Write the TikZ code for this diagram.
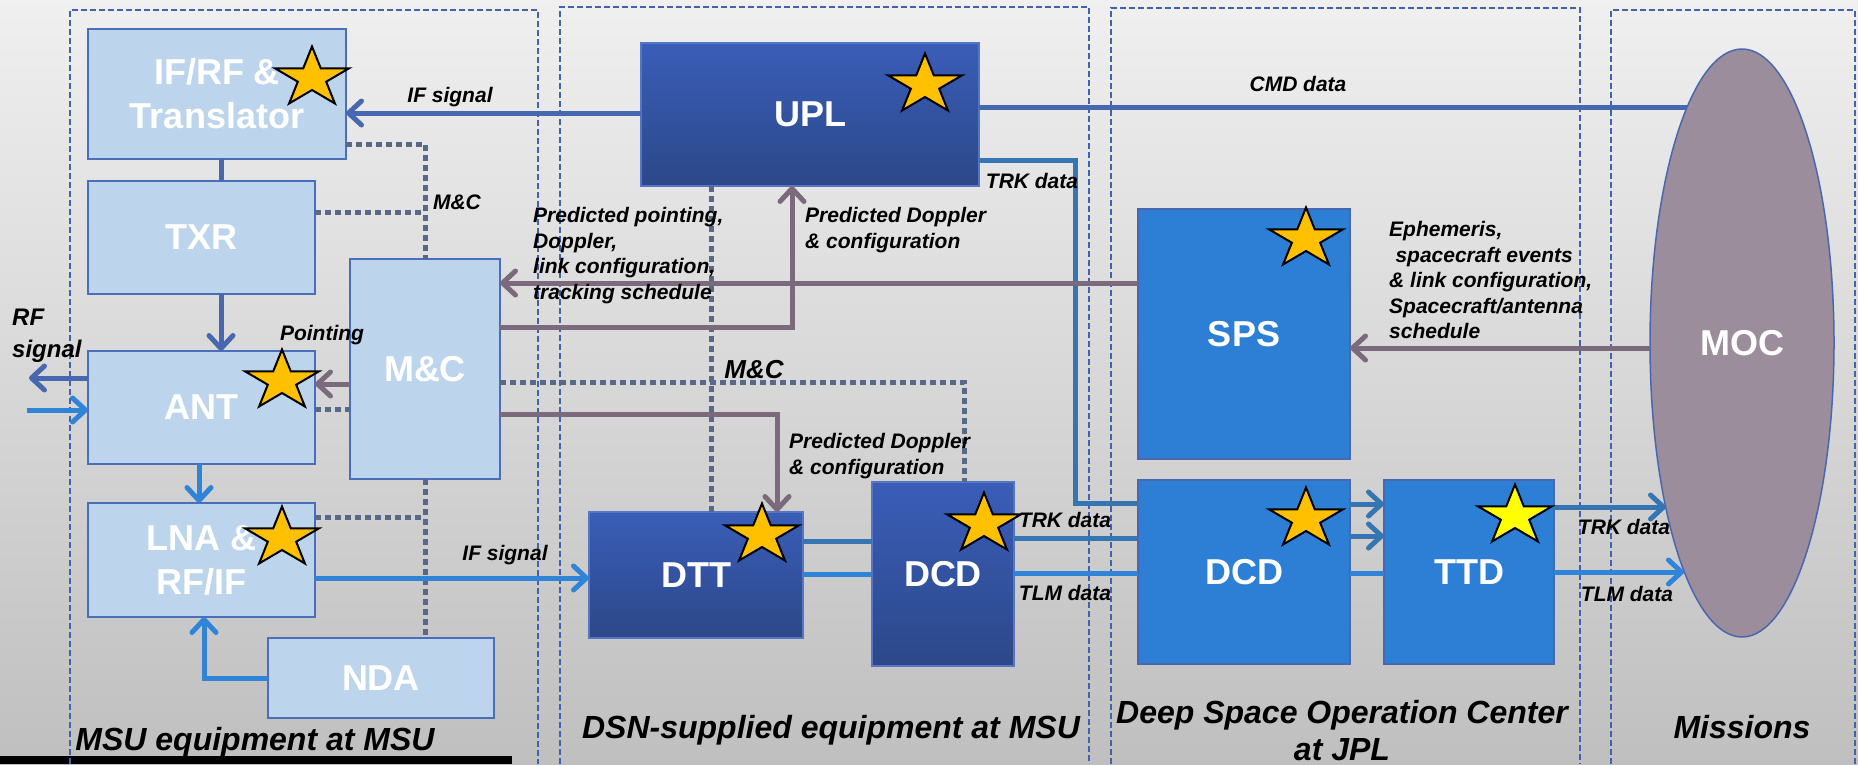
\documentclass[tikz,border=0pt]{standalone}
\usepackage{fontspec}
\setmainfont{Liberation Sans}
\usepackage{xcolor}
\usepackage{tikz}
\usetikzlibrary{positioning, shapes.geometric, arrows.meta}

\definecolor{boxlight}{HTML}{BDD5EC}
\definecolor{boxedge}{HTML}{4A6FBA}
\definecolor{upltop}{HTML}{3A5DB8}
\definecolor{uplbot}{HTML}{2C4889}
\definecolor{dboxedge}{HTML}{5676C4}
\definecolor{boxmid}{HTML}{2C7FD5}
\definecolor{midedge}{HTML}{4A67AE}
\definecolor{mocfill}{HTML}{9C8D9C}
\definecolor{lnblue}{HTML}{4767AE}
\definecolor{lnlight}{HTML}{2F84D8}
\definecolor{lnsteel}{HTML}{3575B2}
\definecolor{lnpurple}{HTML}{7A6A7C}
\definecolor{lndot}{HTML}{5A6888}
\definecolor{grpedge}{HTML}{4262B0}
\definecolor{starorange}{HTML}{FFC000}
\definecolor{staryellow}{HTML}{FFFF00}

\tikzset{gstar/.pic={
  \path[pic actions, draw=black, line width=2pt]
    (90:39pt and 31.5pt) -- (126:14.9pt and 12pt) -- (162:39pt and 31.5pt)
    -- (198:14.9pt and 12pt) -- (234:39pt and 31.5pt) -- (270:14.9pt and 12pt)
    -- (306:39pt and 31.5pt) -- (342:14.9pt and 12pt) -- (18:39pt and 31.5pt)
    -- (54:14.9pt and 12pt) -- cycle;
}}

\begin{document}
\begin{tikzpicture}[x=1pt, y=-1pt]
	\tikzstyle{lbox}=[rectangle, draw=boxedge, line width=2pt, fill=boxlight, text=white, font=\bfseries\fontsize{36}{44}\selectfont, align=center, inner sep=0pt, outer sep=0pt]
	\tikzstyle{dbox}=[lbox, draw=dboxedge, top color=upltop, bottom color=uplbot]
	\tikzstyle{mbox}=[lbox, draw=midedge, fill=boxmid]
	\tikzstyle{grp}=[draw=grpedge, line width=1.5pt, dash pattern=on 6pt off 3pt]
	\tikzstyle{lbl}=[font=\bfseries\itshape\fontsize{21}{25.5}\selectfont, inner sep=0pt, align=left]
	\tikzstyle{glbl}=[font=\bfseries\itshape\fontsize{32}{37}\selectfont, inner sep=0pt, align=center]
	\tikzstyle{darr}=[draw=lnblue, line width=5pt]
	\tikzstyle{larr}=[draw=lnlight, line width=5pt]
	\tikzstyle{sarr}=[draw=lnsteel, line width=5pt]
	\tikzstyle{parr}=[draw=lnpurple, line width=5pt]
	\tikzstyle{mcdot}=[draw=lndot, line width=5pt, dash pattern=on 5.5pt off 4.5pt]
	\tikzstyle{headed}=[-{Straight Barb[length=13pt,width=24pt,round]}]

	\shade[top color=black!6, bottom color=black!25] (0,0) rectangle (1858,764);
	\useasboundingbox (0,0) rectangle (1858,764);
	\fill[black] (0,756) rectangle (512,764);

	\draw[grp] (70,764) |- (538,10) -- (538,764);
	\draw[grp] (560,764) |- (1089,7) -- (1089,764);
	\draw[grp] (1111,764) |- (1580,8) -- (1580,764);
	\draw[grp] (1611,764) |- (1855,10) -- (1855,764);

	\node[lbox, minimum width=258pt, minimum height=130pt](ifrf) at (217,94){IF/RF \&\\Translator};
	\node[lbox, minimum width=227pt, minimum height=113pt](txr) at (201.5,237.5){TXR};
	\node[lbox, minimum width=227pt, minimum height=113pt](ant) at (201.5,407.5){ANT};
	\node[lbox, minimum width=227pt, minimum height=114pt](lna) at (201.5,560){LNA \&\\RF/IF};
	\node[lbox, minimum width=226pt, minimum height=80pt](nda) at (381,678){NDA};
	\node[lbox, minimum width=150pt, minimum height=220pt](mc) at (425,369){M\&C};
	\node[dbox, minimum width=338pt, minimum height=143pt](upl) at (810,114.5){UPL};
	\node[dbox, minimum width=214pt, minimum height=126pt](dtt) at (696,575){DTT};
	\node[dbox, minimum width=142pt, minimum height=184pt](dcdm) at (943,574){DCD};
	\node[mbox, minimum width=212pt, minimum height=250pt](sps) at (1244,334){SPS};
	\node[mbox, minimum width=212pt, minimum height=184pt](dcdj) at (1244,572){DCD};
	\node[mbox, minimum width=170pt, minimum height=184pt](ttd) at (1469,572){TTD};
	\node[lbox, ellipse, draw=midedge, line width=1.5pt, fill=mocfill, minimum width=184pt, minimum height=588pt](moc) at (1742,343){MOC};

	\coordinate (rfout) at (29,378);
	\coordinate (rfin) at (27,410);
	\coordinate (mcmd) at (1687,107);
	\coordinate (mtrk) at (1666,507);
	\coordinate (mtlm) at (1684,572);

	\draw[mcdot] (ifrf.east |- 0,144) -| (mc.north);
	\draw[mcdot] (txr.east |- 0,212) -- (mc.north |- 0,212);
	\draw[mcdot] (ant.east |- 0,409) -- (mc.west |- 0,409);
	\draw[mcdot] (lna.east |- 0,517) -- (mc.south |- 0,517);
	\draw[mcdot] (mc.south) -- (nda.north -| mc.south);
	\draw[mcdot] (mc.east |- 0,382) -| (dcdm.north -| 964,0);
	\draw[mcdot] (upl.south -| 711,0) -- (dtt.north -| 711,0);

	\draw[darr, headed] (upl.west |- 0,113) -- (ifrf.east |- 0,113);
	\draw[darr] (upl.east |- 0,107) -- (mcmd);
	\draw[darr] (ifrf.south -| 221,0) -- (txr.north -| 221,0);
	\draw[darr, headed] (txr.south -| 221,0) -- (ant.north -| 221,0);
	\draw[darr, headed] (ant.west |- 0,378) -- (rfout);
	\draw[larr, headed] (rfin) -- (ant.west |- 0,410);
	\draw[larr, headed] (ant.south -| 199,0) -- (lna.north -| 199,0);
	\draw[larr, headed] (nda.west) -| (lna.south -| 204,0);
	\draw[larr, headed] (lna.east |- 0,578) -- (dtt.west |- 0,578);
	\draw[sarr] (dtt.east |- 0,541) -- (dcdm.west |- 0,541);
	\draw[larr] (dtt.east |- 0,574) -- (dcdm.west |- 0,574);
	\draw[sarr] (dcdm.east |- 0,538) -- (dcdj.west |- 0,538);
	\draw[larr] (dcdm.east |- 0,573) -- (dcdj.west |- 0,573);
	\draw[sarr] (upl.east |- 0,160) -| (1075,503) -- (dcdj.west |- 0,503);
	\draw[sarr, headed] (dcdj.east |- 0,504) -- (ttd.west |- 0,504);
	\draw[sarr, headed] (dcdj.east |- 0,536) -- (ttd.west |- 0,536);
	\draw[larr] (dcdj.east |- 0,573) -- (ttd.west |- 0,573);
	\draw[sarr, headed] (ttd.east |- 0,507) -- (mtrk);
	\draw[larr, headed] (ttd.east |- 0,572) -- (mtlm);

	\draw[parr, headed] (moc.west |- 0,348) -- (sps.east |- 0,348);
	\draw[parr, headed] (sps.west |- 0,283) -- (mc.east |- 0,283);
	\draw[parr, headed] (mc.east |- 0,327) -| (upl.south -| 792,0);
	\draw[parr, headed] (mc.east |- 0,414) -| (dtt.north -| 777,0);
	\draw[parr, headed] (mc.west |- 0,384) -- (ant.east |- 0,384);

	\pic[fill=starorange] at (312,78) {gstar};
	\pic[fill=starorange] at (282,381) {gstar};
	\pic[fill=starorange] at (282,538) {gstar};
	\pic[fill=starorange] at (925,85) {gstar};
	\pic[fill=starorange] at (762,535) {gstar};
	\pic[fill=starorange] at (984,524) {gstar};
	\pic[fill=starorange] at (1306,239) {gstar};
	\pic[fill=starorange] at (1306,519) {gstar};
	\pic[fill=staryellow] at (1515,516) {gstar};

	\node[lbl, anchor=base](l1) at (450,102.5){IF signal};
	\node[lbl, anchor=base](l2) at (457,209.5){M\&C};
	\node[lbl, anchor=base](l3) at (322,340.5){Pointing};
	\node[lbl, anchor=north west, font=\bfseries\itshape\fontsize{24}{32}\selectfont](l4) at (12,308.5){RF\\signal};
	\node[lbl, anchor=north west](l5) at (533,207.5){Predicted pointing,\\Doppler,\\link configuration,\\tracking schedule};
	\node[lbl, anchor=north west, font=\bfseries\itshape\fontsize{21}{26}\selectfont](l6) at (805,207.5){Predicted Doppler\\\& configuration};
	\node[lbl, anchor=base](l7) at (1032,188.5){TRK data};
	\node[lbl, anchor=base, font=\bfseries\itshape\fontsize{26}{30}\selectfont](l8) at (754,378){M\&C};
	\node[lbl, anchor=north west, font=\bfseries\itshape\fontsize{21}{26}\selectfont](l9) at (789,433.5){Predicted Doppler\\\& configuration};
	\node[lbl, anchor=base](l10) at (505,560.5){IF signal};
	\node[lbl, anchor=base](l11) at (1065,527.5){TRK data};
	\node[lbl, anchor=base](l12) at (1065,600.5){TLM data};
	\node[lbl, anchor=base](l13) at (1298,91.5){CMD data};
	\node[lbl, anchor=north west](l14) at (1389,221.5){Ephemeris,\\\hspace*{0.3em}spacecraft events\\\& link configuration,\\Spacecraft/antenna\\schedule};
	\node[lbl, anchor=base](l15) at (1624,534.5){TRK data};
	\node[lbl, anchor=base](l16) at (1627,601.5){TLM data};

	\node[glbl, anchor=base](g1) at (255,750){MSU equipment at MSU};
	\node[glbl, anchor=base](g2) at (831,738){DSN-supplied equipment at MSU};
	\node[glbl, anchor=north](g3) at (1342,700){Deep Space Operation Center\\at JPL};
	\node[glbl, anchor=base](g4) at (1742,738){Missions};
\end{tikzpicture}
\end{document}
